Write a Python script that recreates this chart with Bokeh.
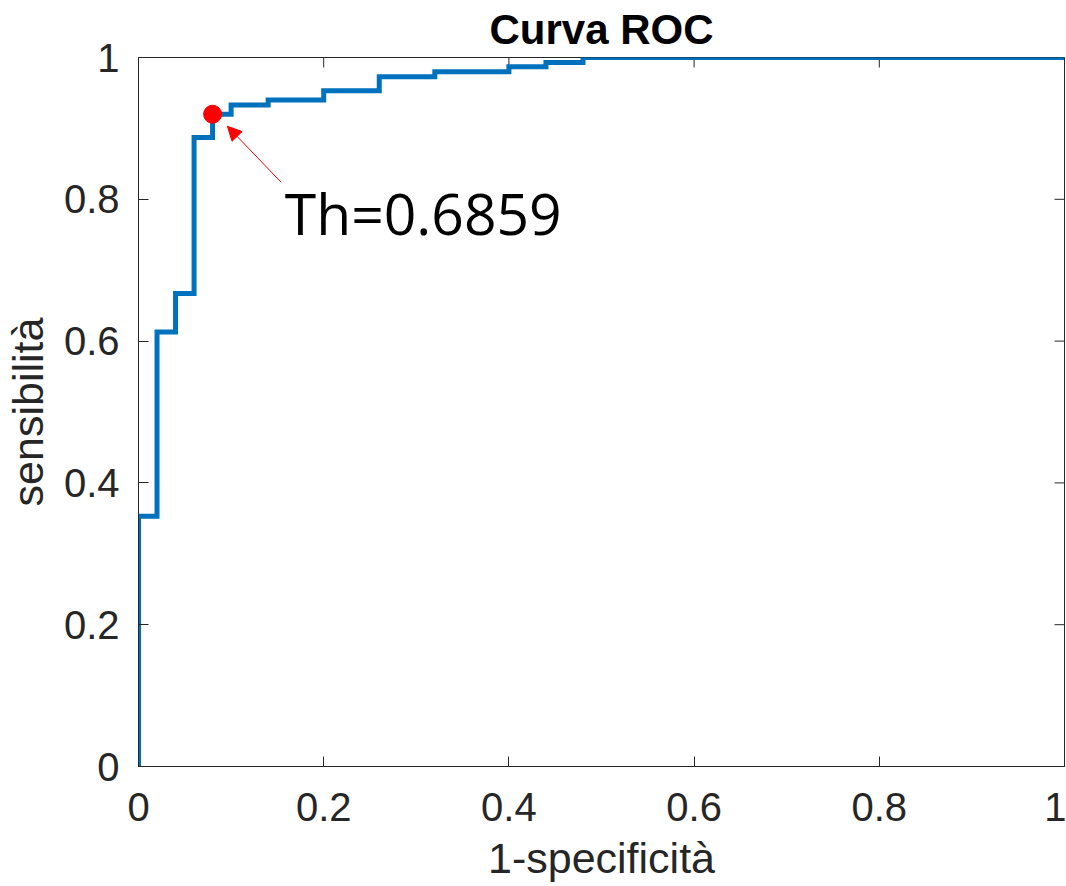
from bokeh.plotting import figure
from bokeh.models import Range1d, FixedTicker, Arrow, NormalHead, Label
from bokeh.embed import file_html
from bokeh.resources import INLINE

# ROC data
fpr = [0.0, 0.0, 0.02, 0.04, 0.06, 0.08, 0.10, 0.14, 0.20, 0.26, 0.32, 0.40, 0.44, 0.48, 1.0]
tpr = [0.0, 0.353, 0.613, 0.667, 0.887, 0.920, 0.933, 0.940, 0.953, 0.973, 0.980, 0.987, 0.993, 1.0, 1.0]
th_fpr = [0.08]
th_tpr = [0.92]
th_label = "Th=0.6859"
ticks = [0, 0.2, 0.4, 0.6, 0.8, 1]
tick_labels = {0: "0", 0.2: "0.2", 0.4: "0.4", 0.6: "0.6", 0.8: "0.8", 1: "1"}

AX = "#262626"
FONT = "Liberation Sans"

p = figure(width=1066, height=886, output_backend="svg", toolbar_location=None,
           x_range=Range1d(0, 1), y_range=Range1d(0, 1),
           min_border_left=137, min_border_right=2, min_border_top=57, min_border_bottom=120,
           title="Curva ROC")
p.title.align = "center"
p.title.vertical_align = "top"
p.title.text_font = FONT
p.title.text_font_size = "42px"
p.title.text_font_style = "bold"
p.title.text_color = "black"
p.title.standoff = 6

p.grid.visible = False
p.outline_line_color = AX
p.outline_line_width = 1
p.background_fill_color = "white"
p.border_fill_color = "white"

for ax in (p.xaxis[0], p.yaxis[0]):
    ax.ticker = FixedTicker(ticks=ticks)
    ax.major_label_overrides = tick_labels
    ax.major_tick_in = 10
    ax.major_tick_out = 0
    ax.minor_tick_line_color = None
    ax.axis_line_color = AX
    ax.major_tick_line_color = AX
    ax.major_label_text_font = FONT
    ax.major_label_text_font_size = "40px"
    ax.major_label_text_color = AX
    ax.axis_label_text_font = FONT
    ax.axis_label_text_font_size = "43px"
    ax.axis_label_text_font_style = "normal"
    ax.axis_label_text_color = AX

p.xaxis[0].axis_label = "1-specificità"
p.yaxis[0].axis_label = "sensibilità"
p.xaxis[0].major_label_standoff = 26
p.yaxis[0].major_label_standoff = 19
p.xaxis[0].axis_label_standoff = 10
p.yaxis[0].axis_label_standoff = 9

# box ticks on the top and right edges, derived from the same tick list
n = len(ticks)
tick_len_x = 10 / 927
tick_len_y = 10 / 709
p.segment(x0=ticks, y0=[1] * n, x1=ticks, y1=[1 - tick_len_y] * n, line_color=AX, line_width=1)
p.segment(x0=[1] * n, y0=ticks, x1=[1 - tick_len_x] * n, y1=ticks, line_color=AX, line_width=1)

p.step(fpr, tpr, mode="after", line_color="#0072BD", line_width=5, line_join="miter")
p.scatter(th_fpr, th_tpr, size=18, fill_color="#FF0000", line_color="#FF0000")

p.add_layout(Arrow(end=NormalHead(size=14, fill_color="#FF0000", line_color="#FF0000", line_width=1),
                   x_start=0.154, y_start=0.824, x_end=0.096, y_end=0.903,
                   line_color="#FF0000", line_width=1))
p.add_layout(Label(x=0.158, y=0.781, text=th_label, text_font="Open Sans",
                   text_font_size="57px", text_color="black", text_baseline="alphabetic"))

open("out.html", "w").write(file_html(p, INLINE))
